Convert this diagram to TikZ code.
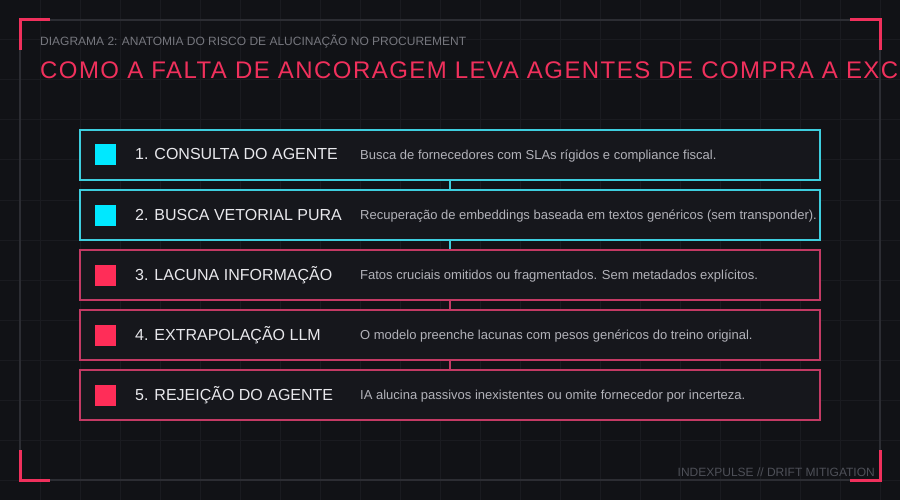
\documentclass[tikz,border=0pt]{standalone}
\usepackage{fontspec}
\setmainfont{Liberation Sans}

\definecolor{bgdark}{RGB}{17,18,22}
\definecolor{gridgray}{RGB}{26,27,32}
\definecolor{framegray}{RGB}{44,45,51}
\definecolor{boxfill}{RGB}{22,23,28}
\definecolor{accent}{RGB}{240,48,92}
\definecolor{cyanline}{RGB}{62,206,222}
\definecolor{cyanmark}{RGB}{0,232,255}
\definecolor{pinkline}{RGB}{196,58,100}
\definecolor{pinkmark}{RGB}{255,45,88}
\definecolor{headgray}{RGB}{118,119,126}
\definecolor{footgray}{RGB}{78,80,88}
\definecolor{labelwhite}{RGB}{232,232,236}
\definecolor{descgray}{RGB}{178,178,185}

\begin{document}
\begin{tikzpicture}[x=1pt,y=-1pt]
\tikzstyle{stage}=[draw, line width=1.2pt, fill=boxfill, minimum width=740pt, minimum height=50pt, inner sep=0pt]
\tikzstyle{marker}=[minimum size=21pt, inner sep=0pt]
\tikzstyle{stagename}=[anchor=base west, text=labelwhite, font=\fontsize{16}{16}\selectfont, inner sep=0pt]
\tikzstyle{stagedesc}=[anchor=base west, text=descgray, font=\fontsize{13}{13}\selectfont, inner sep=0pt]
\tikzstyle{link}=[line width=2pt]

\clip (0,0) rectangle (900,500);
\fill[bgdark] (0,0) rectangle (900,500);

% background grid
\foreach \gx in {40,80,...,880}
    \draw[gridgray, line width=1pt] (\gx,0) -- (\gx,500);
\foreach \gy in {40,80,...,480}
    \draw[gridgray, line width=1pt] (0,\gy) -- (900,\gy);

% frame and corners
\draw[framegray, line width=1.5pt] (20,20) rectangle (880,480);
\draw[accent, line width=3pt] (50,20) -- (20,20) -- (20,50);
\draw[accent, line width=3pt] (850,20) -- (880,20) -- (880,50);
\draw[accent, line width=3pt] (20,450) -- (20,480) -- (50,480);
\draw[accent, line width=3pt] (880,450) -- (880,480) -- (850,480);

% headings
\node[anchor=base west, inner sep=0pt, text=headgray, font=\fontsize{12}{12}\selectfont] (head) at (40,46)
    {DIAGRAMA 2: ANATOMIA DO RISCO DE ALUCINAÇÃO NO PROCUREMENT};
\node[anchor=base west, inner sep=0pt, text=accent, font=\fontsize{24}{24}\selectfont\addfontfeature{LetterSpace=6}] (title) at (40,79)
    {COMO A FALTA DE ANCORAGEM LEVA AGENTES DE COMPRA A EXC};
\node[anchor=base east, inner sep=0pt, text=footgray, font=\fontsize{12}{12}\selectfont] (foot) at (875,476)
    {INDEXPULSE // DRIFT MITIGATION};

% stages
\node[stage, draw=cyanline] (S1) at (450,155) {};
\node[stage, draw=cyanline] (S2) at (450,215) {};
\node[stage, draw=pinkline] (S3) at (450,275) {};
\node[stage, draw=pinkline] (S4) at (450,335) {};
\node[stage, draw=pinkline] (S5) at (450,395) {};

\draw[link, cyanline] (S1.south) -- (S2.north);
\draw[link, cyanline] (S2.south) -- (S3.north);
\draw[link, pinkline] (S3.south) -- (S4.north);
\draw[link, pinkline] (S4.south) -- (S5.north);

\node[marker, fill=cyanmark] (M1) at (105.5,155) {};
\node[marker, fill=cyanmark] (M2) at (105.5,215) {};
\node[marker, fill=pinkmark] (M3) at (105.5,275) {};
\node[marker, fill=pinkmark] (M4) at (105.5,335) {};
\node[marker, fill=pinkmark] (M5) at (105.5,395) {};

\node[stagename] (N1) at (135,160) {1. CONSULTA DO AGENTE};
\node[stagename] (N2) at (135,220) {2. BUSCA VETORIAL PURA};
\node[stagename] (N3) at (135,280) {3. LACUNA INFORMAÇÃO};
\node[stagename] (N4) at (135,340) {4. EXTRAPOLAÇÃO LLM};
\node[stagename] (N5) at (135,400) {5. REJEIÇÃO DO AGENTE};

\node[stagedesc] (D1) at (360,159.5) {Busca de fornecedores com SLAs rígidos e compliance fiscal.};
\node[stagedesc] (D2) at (360,219.5) {Recuperação de embeddings baseada em textos genéricos (sem transponder).};
\node[stagedesc] (D3) at (360,279.5) {Fatos cruciais omitidos ou fragmentados. Sem metadados explícitos.};
\node[stagedesc] (D4) at (360,339.5) {O modelo preenche lacunas com pesos genéricos do treino original.};
\node[stagedesc] (D5) at (360,399.5) {IA alucina passivos inexistentes ou omite fornecedor por incerteza.};

\end{tikzpicture}
\end{document}
